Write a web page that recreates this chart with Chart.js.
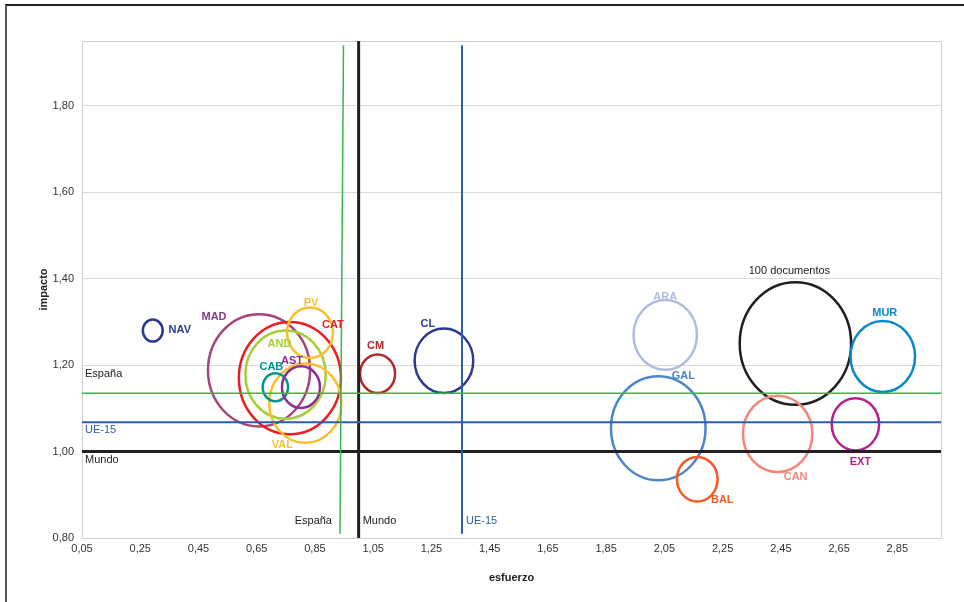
<!DOCTYPE html>
<html>
<head>
<meta charset="utf-8">
<script src="https://cdn.jsdelivr.net/npm/chart.js@4.4.1/dist/chart.umd.min.js"></script>
<style>
  html, body { margin: 0; padding: 0; background: #fff; }
  #marco { position: absolute; left: 5px; top: 4px; width: 959px; height: 598px; border-top: 2px solid #222; border-left: 2px solid #555; }
  #grafico { position: absolute; left: 0; top: 0; }
</style>
</head>
<body>
<div id="marco"></div>
<canvas id="grafico" width="964" height="602"></canvas>
<script>
// comunidades autónomas
const regiones = ["NAV", "MAD", "CAT", "AND", "PV", "VAL", "CAB", "AST", "CM", "CL", "ARA", "GAL", "BAL", "CAN", "EXT", "MUR"];
const esfuerzo = [0.293, 0.658, 0.764, 0.749, 0.833, 0.817, 0.714, 0.802, 1.065, 1.293, 2.053, 2.029, 2.163, 2.439, 2.706, 2.8];
const impacto = [1.28, 1.188, 1.17, 1.178, 1.275, 1.112, 1.149, 1.149, 1.18, 1.21, 1.27, 1.054, 0.936, 1.041, 1.063, 1.22];
const documentos = [3.2, 84, 84, 52, 17, 42, 5.2, 11.6, 9.9, 27.7, 32.4, 72, 13.3, 38.8, 18.1, 33.6];

// burbuja de referencia
const refTexto = "100 documentos";
const refPunto = [2.5, 1.25];
const refDocs = 100;

// líneas de referencia
const lineasNombres = ["España", "UE-15", "Mundo"];
const lineasEsfuerzo = [[0.936, 0.948], [1.355, 1.355], [1.0, 1.0]]; // abajo, arriba
const lineasImpacto = [1.135, 1.068, 1.0];

// ticks
const xTicks = [0.05, 0.25, 0.45, 0.65, 0.85, 1.05, 1.25, 1.45, 1.65, 1.85, 2.05, 2.25, 2.45, 2.65, 2.85];
const yTicks = [0.8, 1.0, 1.2, 1.4, 1.6, 1.8];

// estilos
const coloresBurbuja = ["#2B3990", "#A8437C", "#ED1C24", "#A6CE39", "#FDBE2C", "#FDBE2C", "#00958F", "#8B2F97",
  "#B2282E", "#2B3990", "#AFBCDE", "#4A86C8", "#F15A24", "#F4877A", "#B5218D", "#0A88CA"];
const coloresTexto = ["#2B3990", "#7F3B8F", "#ED1C24", "#A6CE39", "#FDBE2C", "#FDBE2C", "#00958F", "#8B2F97",
  "#B2282E", "#2B3990", "#AFBCDE", "#4A86C8", "#F15A24", "#F4877A", "#B5218D", "#0A88CA"];
const desplazamientos = [[27, -1], [-45, -53], [43, -53], [-6, -31], [1, -30], [-23, 42], [-4, -20], [-9, -26],
  [-2, -28], [-16, -37], [0, -38], [25, -52], [25, 21], [18, 43], [5, 38], [2, -44]];
const coloresLinea = ["#3BB54A", "#2E5DAA", "#231F20"];
const anchosLinea = [1.5, 2, 3];
const FUENTE = "'Liberation Sans', Arial, sans-serif";

const radio = (docs) => 55.7 * Math.sqrt(docs / 100);
const fmt = (v) => v.toFixed(2).replace(".", ",");

const datasets = [];
lineasNombres.forEach((n, i) => {
  // horizontal
  datasets.push({
    type: "line", label: n + " h",
    data: [{ x: 0.05, y: lineasImpacto[i] }, { x: 3.0, y: lineasImpacto[i] }],
    borderColor: coloresLinea[i], borderWidth: anchosLinea[i], pointRadius: 0,
  });
  // vertical
  const top = i === 2 ? 1.95 : 1.94;
  const bot = i === 2 ? 0.8 : 0.81;
  datasets.push({
    type: "line", label: n + " v",
    data: [{ x: lineasEsfuerzo[i][0], y: bot }, { x: lineasEsfuerzo[i][1], y: top }],
    borderColor: coloresLinea[i], borderWidth: anchosLinea[i], pointRadius: 0,
  });
});
datasets.push({
  type: "bubble", label: "regiones",
  data: regiones.map((r, i) => ({ x: esfuerzo[i], y: impacto[i], r: radio(documentos[i]) })),
  borderColor: coloresBurbuja, backgroundColor: "transparent",
});
datasets.push({
  type: "bubble", label: refTexto,
  data: [{ x: refPunto[0], y: refPunto[1], r: radio(refDocs) }],
  borderColor: ["#231F20"], backgroundColor: "transparent",
});

const elipses = {
  id: "elipses",
  beforeDatasetsDraw(chart) {
    const { ctx, chartArea: a } = chart;
    ctx.save();
    ctx.strokeStyle = "#d0d0d0";
    ctx.lineWidth = 1;
    ctx.strokeRect(a.left + 0.5, a.top + 0.5, a.right - a.left, a.bottom - a.top);
    ctx.restore();
  },
  beforeDatasetDraw(chart, args) {
    const ds = chart.data.datasets[args.index];
    if (ds.type !== "bubble") return;
    const ctx = chart.ctx;
    ctx.save();
    ctx.lineWidth = 2.5;
    args.meta.data.forEach((el, i) => {
      const r = el.options.radius;
      ctx.beginPath();
      ctx.ellipse(el.x, el.y, r, r * 1.1, 0, 0, Math.PI * 2);
      ctx.strokeStyle = ds.borderColor[i];
      ctx.stroke();
    });
    ctx.restore();
    return false;
  },
  afterDatasetsDraw(chart) {
    const { ctx, chartArea: a, scales } = chart;
    ctx.save();
    ctx.textAlign = "center";
    ctx.textBaseline = "middle";
    // etiquetas de burbujas
    const metaReg = chart.getDatasetMeta(datasets.length - 2);
    ctx.font = "bold 11px " + FUENTE;
    metaReg.data.forEach((el, i) => {
      ctx.fillStyle = coloresTexto[i];
      ctx.fillText(regiones[i], el.x + desplazamientos[i][0], el.y + desplazamientos[i][1]);
    });
    const metaRef = chart.getDatasetMeta(datasets.length - 1);
    ctx.font = "11px " + FUENTE;
    ctx.fillStyle = "#222";
    ctx.fillText(refTexto, metaRef.data[0].x - 6, metaRef.data[0].y - 73);
    // etiquetas de líneas
    const dyH = [-19, 8, 8];
    lineasNombres.forEach((n, i) => {
      ctx.fillStyle = i === 1 ? "#2E5DAA" : "#222";
      ctx.textAlign = "left";
      ctx.fillText(n, a.left + 3, scales.y.getPixelForValue(lineasImpacto[i]) + dyH[i]);
      const xv = scales.x.getPixelForValue(lineasEsfuerzo[i][0]);
      if (i === 0) {
        ctx.textAlign = "right";
        ctx.fillText(n, xv - 8, a.bottom - 17);
      } else {
        ctx.textAlign = "left";
        ctx.fillText(n, xv + 4, a.bottom - 17);
      }
    });
    ctx.restore();
  },
};

try {
  const ctx = document.getElementById("grafico").getContext("2d");
  new Chart(ctx, {
    type: "scatter",
    data: { datasets },
    options: {
      responsive: false,
      animation: false,
      events: [],
      layout: { autoPadding: false, padding: { top: 41, right: 23, left: 0, bottom: 0 } },
      scales: {
        x: {
          type: "linear", min: 0.05, max: 3.0,
          afterBuildTicks: (s) => { s.ticks = xTicks.map((v) => ({ value: v })); },
          afterFit: (s) => { s.height = 64; s.paddingLeft = 0; s.paddingRight = 0; },
          grid: { display: false, drawTicks: false },
          border: { display: false },
          ticks: { callback: fmt, color: "#333", font: { size: 11, family: FUENTE }, padding: 4, maxRotation: 0, autoSkip: false },
          title: { display: true, text: "esfuerzo", color: "#222", font: { size: 11, weight: "bold", family: FUENTE }, padding: { top: 0, bottom: 17 } },
        },
        y: {
          type: "linear", min: 0.8, max: 1.95,
          afterBuildTicks: (s) => { s.ticks = yTicks.map((v) => ({ value: v })); },
          afterFit: (s) => { s.width = 82; s.paddingTop = 0; s.paddingBottom = 0; },
          grid: { color: "#d9d9d9", drawTicks: false },
          border: { display: false },
          ticks: { callback: fmt, color: "#333", font: { size: 11, family: FUENTE }, padding: 8 },
          title: { display: true, text: "impacto", color: "#222", font: { size: 11, weight: "bold", family: FUENTE }, padding: { top: 37, bottom: 0 } },
        },
      },
      plugins: { legend: { display: false }, tooltip: { enabled: false } },
    },
    plugins: [elipses],
  });
} catch (e) {
  console.error("Error al crear el gráfico:", e);
}
</script>
</body>
</html>
